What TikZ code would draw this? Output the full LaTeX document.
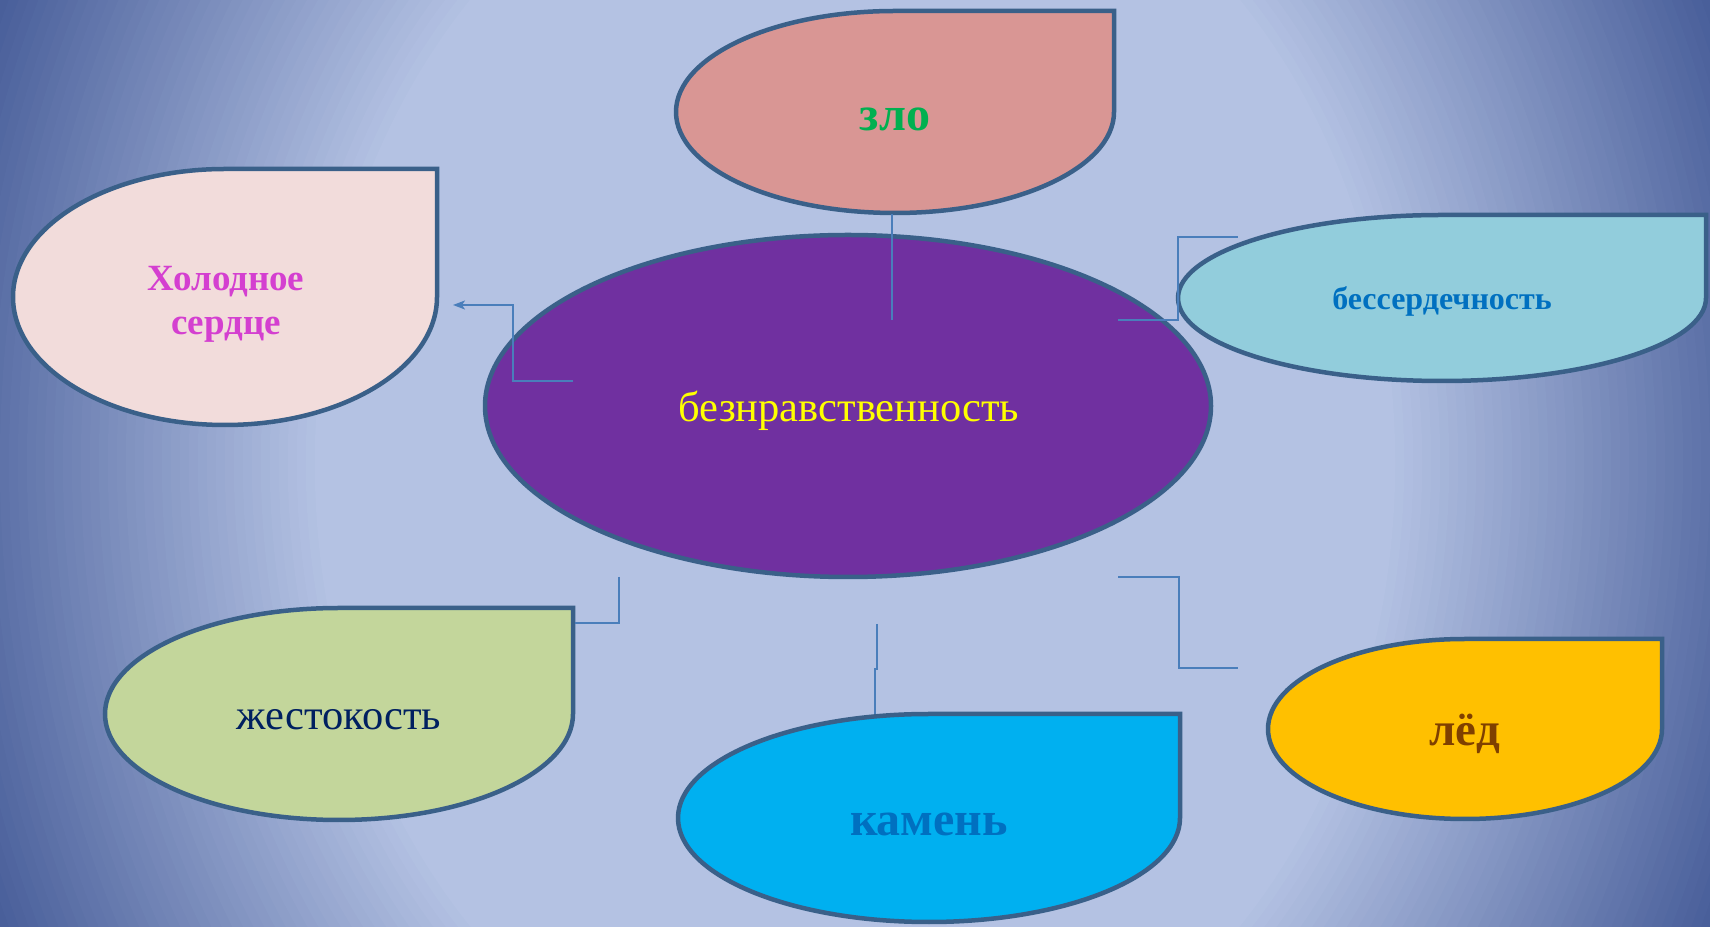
\documentclass[tikz,border=0pt]{standalone}
\usepackage{fontspec}
\setmainfont{Liberation Serif}
\usetikzlibrary{arrows.meta}
\definecolor{bgdark}{HTML}{3A5190}
\definecolor{bglight}{HTML}{B4C2E3}
\definecolor{dropborder}{HTML}{3A6089}
\definecolor{connblue}{HTML}{4A7EBB}
\definecolor{fzlo}{HTML}{D99694}
\definecolor{fhol}{HTML}{F2DCDB}
\definecolor{fcen}{HTML}{7030A0}
\definecolor{fbes}{HTML}{92CDDC}
\definecolor{fzhe}{HTML}{C3D69B}
\definecolor{fkam}{HTML}{00B0F0}
\definecolor{fled}{HTML}{FFC000}
\definecolor{tzlo}{HTML}{00B050}
\definecolor{thol}{HTML}{D43FD0}
\definecolor{tcen}{HTML}{FFFF00}
\definecolor{tblue}{HTML}{0070C0}
\definecolor{tzhe}{HTML}{002060}
\definecolor{tled}{HTML}{7F4000}
\tikzset{
  dropline/.style={draw=dropborder, line width=4.5pt, line join=miter},
  conn/.style={draw=connblue, line width=1.8pt},
  lbl/.style={align=center, inner sep=0pt},
}
\newcommand\dropshape[5]{%
  \path[dropline, fill=#5] (#1-#3,#2)
    arc[start angle=180,end angle=90,x radius=#3pt,y radius=#4pt]
    -- ++(#3,0) -- ++(0,-#4)
    arc[start angle=0,end angle=-180,x radius=#3pt,y radius=#4pt] -- cycle;}
\begin{document}
\begin{tikzpicture}[x=1pt,y=1pt]
\useasboundingbox (0,0) rectangle (1710,926);
\fill[bgdark] (0,0) rectangle (1710,926);
\begin{scope}
\clip (0,0) rectangle (1710,926);
\foreach \i in {0,...,50}{
  \pgfmathsetmacro\rx{(1.10-\i*0.01)*900}
  \pgfmathsetmacro\ry{(1.10-\i*0.01)*1100}
  \pgfmathtruncatemacro\p{\i*2}
  \fill[bglight!\p!bgdark] (855,463) ellipse[x radius=\rx pt, y radius=\ry pt];
}
\end{scope}
% central ellipse
\path[dropline, fill=fcen] (848,520) ellipse[x radius=363pt, y radius=171pt];
% teardrops
\dropshape{895}{814}{219}{101}{fzlo}
\dropshape{225}{629}{212}{128}{fhol}
\dropshape{1442}{628}{264}{83}{fbes}
\dropshape{339}{212}{234}{106}{fzhe}
\dropshape{929}{108}{251}{104}{fkam}
\dropshape{1465}{197}{197}{90}{fled}
% labels
\node[lbl, text=tcen, font=\fontsize{42.5}{50}\selectfont] (cen) at (849,515) {безнравственность};
\node[lbl, text=tzlo, font=\fontsize{48}{56}\selectfont\bfseries] (zlo) at (895,807) {зло};
\node[lbl, text=thol, font=\fontsize{37}{44}\selectfont\bfseries] (hol) at (226,622) {Холодное\\сердце};
\node[lbl, text=tblue, font=\fontsize{32}{38}\selectfont\bfseries] (bes) at (1442,625) {бессердечность};
\node[lbl, text=tzhe, font=\fontsize{42.5}{50}\selectfont] (zhe) at (339,206) {жестокость};
\node[lbl, text=tblue, font=\fontsize{48}{56}\selectfont\bfseries] (kam) at (929,102) {камень};
\node[lbl, text=tled, font=\fontsize{47}{55}\selectfont\bfseries] (led) at (1465,192) {лёд};
% connector end points
\coordinate (zloA) at (892,712);
\coordinate (zloB) at (892,606);
\coordinate (holA) at (573,545);
\coordinate (holB) at (453,621);
\coordinate (besA) at (1118,606);
\coordinate (besB) at (1238,689);
\coordinate (zheA) at (619,349);
\coordinate (zheB) at (575,303);
\coordinate (kamA) at (877,302);
\coordinate (kamB) at (875,212);
\coordinate (ledA) at (1118,349);
\coordinate (ledB) at (1238,258);
% connectors
\draw[conn] (zloA) -- (zloB);
\draw[conn, -{Stealth[length=12pt, width=9pt, inset=3pt]}] (holA) -- ++(-60,0) |- (holB);
\draw[conn] (besA) -- ++(60,0) |- (besB);
\draw[conn] (zheA) |- (zheB);
\draw[conn] (kamA) -- ++(0,-45) -- ++(-2,0) -- (kamB);
\draw[conn] (ledA) -- ++(61,0) |- (ledB);
\end{tikzpicture}
\end{document}
